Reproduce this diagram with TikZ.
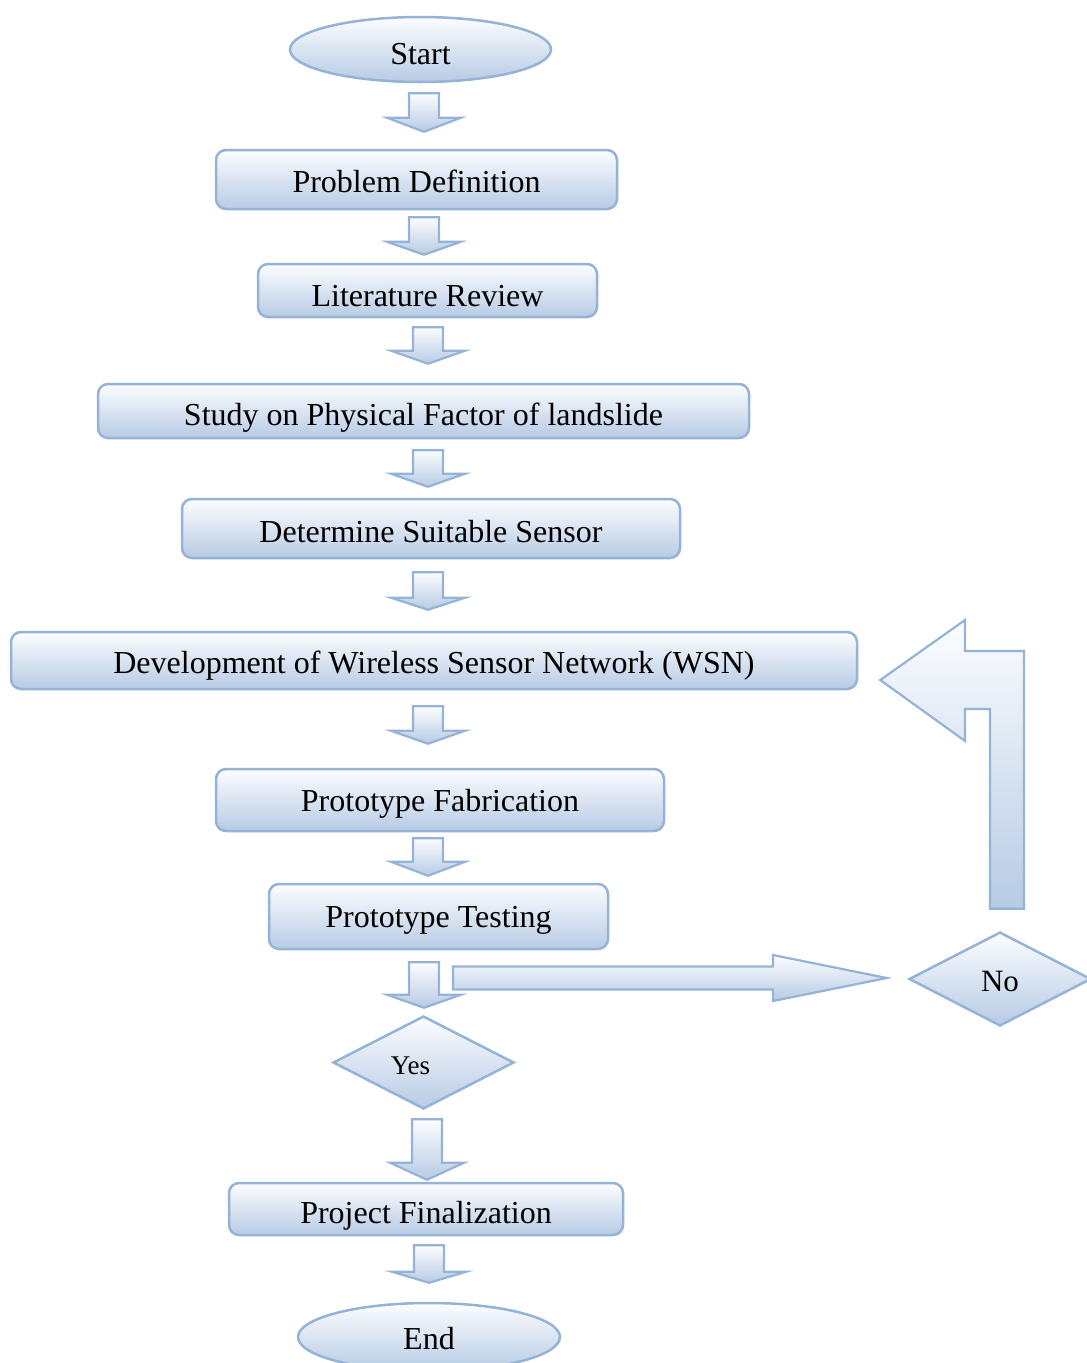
\documentclass[tikz,border=0pt]{standalone}
\usepackage{fontspec}
\setmainfont{Liberation Serif}
\usetikzlibrary{shapes.geometric,calc}
\definecolor{bordc}{RGB}{149,179,215}
\definecolor{fillb}{RGB}{183,203,228}
\definecolor{fillt}{RGB}{252,253,255}
% #1 source node, #2 target node, #3 x centre, #4 top gap, #5 tip gap, #6 head height
\newcommand\downblock[6]{%
  \path[blockarrow] let \p1=(#1.south), \p2=(#2.north) in
    ({#3pt-15pt},{\y1-#4pt}) -- ({#3pt+15pt},{\y1-#4pt})
    -- ({#3pt+15pt},{\y2+#5pt+#6pt}) -- ({#3pt+37pt},{\y2+#5pt+#6pt})
    -- ({#3pt},{\y2+#5pt})
    -- ({#3pt-37pt},{\y2+#5pt+#6pt}) -- ({#3pt-15pt},{\y2+#5pt+#6pt}) -- cycle;}
\begin{document}
\begin{tikzpicture}[x=1pt,y=-1pt,
  base/.style={draw=bordc, line width=2.5pt, top color=fillt, bottom color=fillb,
    inner sep=0pt, font=\fontsize{32}{38}\selectfont},
  procbox/.style={base, rectangle, rounded corners=10pt},
  term/.style={base, ellipse},
  decide/.style={base, diamond},
  dropby/.style={text height=#1},
  blockarrow/.style={draw=bordc, line width=2.2pt, top color=fillt, bottom color=fillb, line join=miter}
]
\useasboundingbox (0,0) rectangle (1087,1363);
\clip (0,0) rectangle (1087,1363);

\node[term, minimum width=261pt, minimum height=65pt, dropby=29.5pt] (start) at (420.5,49.5) {Start};
\node[procbox, minimum width=401pt, minimum height=59pt, dropby=26pt] (pd) at (416.5,179.5) {Problem Definition};
\node[procbox, minimum width=339pt, minimum height=53pt, dropby=32pt] (lr) at (427.5,290.5) {Literature Review};
\node[procbox, minimum width=651pt, minimum height=54pt, dropby=36pt] (study) at (423.5,411) {Study on Physical Factor of landslide};
\node[procbox, minimum width=498pt, minimum height=59pt, dropby=28pt] (det) at (431,528.5) {Determine Suitable Sensor};
\node[procbox, minimum width=846pt, minimum height=57pt, dropby=32pt] (dev) at (434,660.5) {Development of Wireless Sensor Network (WSN)};
\node[procbox, minimum width=448pt, minimum height=62pt, dropby=30pt] (fab) at (440,800) {Prototype Fabrication};
\node[procbox, minimum width=339pt, minimum height=65pt, dropby=28pt] (test) at (438.5,916.5) {Prototype Testing};
\node[decide, minimum width=181pt, minimum height=93pt, font=\fontsize{27}{32}\selectfont, dropby=24pt] (yes) at (423.5,1062.5) {\hspace*{-26pt}Yes};
\node[decide, minimum width=182pt, minimum height=94pt, font=\fontsize{31}{36}\selectfont, dropby=24.5pt] (no) at (1000,979) {No};
\node[procbox, minimum width=394pt, minimum height=52pt, dropby=36pt] (fin) at (426,1209) {Project Finalization};
\node[term, minimum width=262pt, minimum height=68pt, dropby=26pt] (end) at (429,1337) {End};

\downblock{start}{pd}{424}{10}{17}{14}
\downblock{pd}{lr}{424}{7}{8}{13}
\downblock{lr}{study}{428}{9}{19}{13}
\downblock{study}{det}{428}{11}{11}{13}
\downblock{det}{dev}{428}{13}{21}{12}
\downblock{dev}{fab}{428}{16}{24}{13}
\downblock{fab}{test}{428}{6}{7}{14}
\downblock{test}{yes}{424}{12}{7}{13}
\downblock{yes}{fin}{427}{9}{2}{17}
\downblock{fin}{end}{429}{9}{19}{11}

% testing -> No
\path[blockarrow] let \p1=(test.south), \p2=(no.west) in
  ({\x1+14.5pt},{\y2+12.5pt}) -- ({773pt},{\y2+12.5pt}) -- ({773pt},{\y2+24pt})
  -- ({\x2-21pt},{\y2+1pt})
  -- ({773pt},{\y2-22pt}) -- ({773pt},{\y2-10.5pt}) -- ({\x1+14.5pt},{\y2-10.5pt}) -- cycle;

% No -> back to development
\path[blockarrow] let \p1=(no.north), \p2=(dev.east) in
  ({\x1-10pt},{\y1+22pt}) -- ({\x1+24pt},{\y1+22pt}) -- ({\x1+24pt},{\y2+9.5pt})
  -- ({965pt},{\y2+9.5pt}) -- ({965pt},{\y2+40.5pt})
  -- ({\x2+22pt},{\y2-19.5pt})
  -- ({965pt},{\y2-80.5pt}) -- ({965pt},{\y2-48.5pt}) -- ({\x1-10pt},{\y2-48.5pt}) -- cycle;
\end{tikzpicture}
\end{document}
